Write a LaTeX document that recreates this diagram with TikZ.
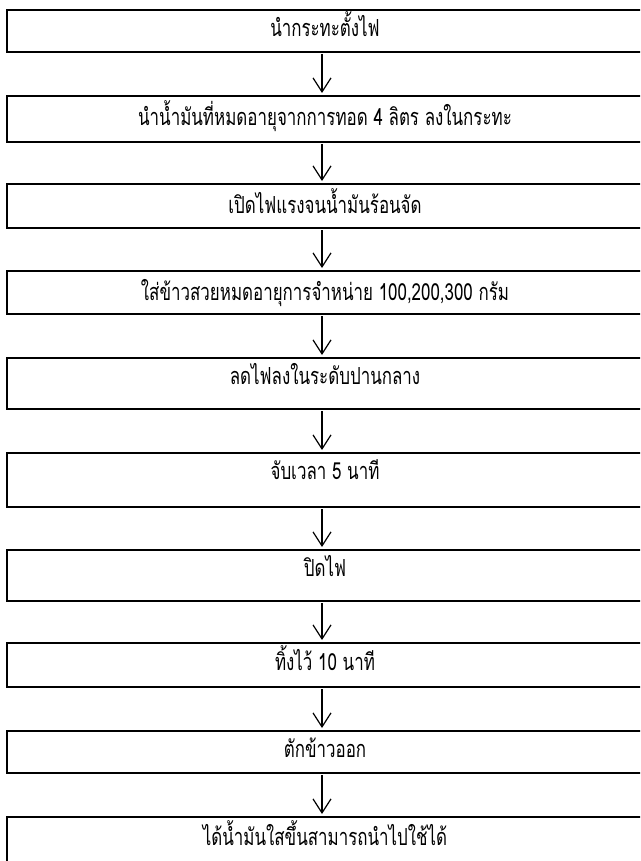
\documentclass[tikz,border=0pt]{standalone}
\usepackage{fontspec}
\newfontfamily\thaifont[Script=Thai,FakeStretch=0.72]{Loma}
\usetikzlibrary{arrows.meta}
\begin{document}
\begin{tikzpicture}[x=1pt,y=-1pt,
  stepbox/.style={draw, line width=2pt, inner sep=0pt, outer sep=0pt, minimum width=637pt, anchor=north west},
  txt/.style={font=\thaifont\fontsize{23.5}{26}\selectfont, inner sep=0pt, anchor=base},
  flow/.style={line width=1.2pt, -{Straight Barb[length=14pt,width=18pt,line width=1.2pt]}, shorten <=2pt, shorten >=3pt}]
\useasboundingbox (0,0) rectangle (640,861);
\clip (0,0) rectangle (640,861);
\node[stepbox, minimum height=42pt] (b1) at (6.5,10) {};
\node[stepbox, minimum height=46pt] (b2) at (6.5,96) {};
\node[stepbox, minimum height=44pt] (b3) at (6.5,184) {};
\node[stepbox, minimum height=43pt] (b4) at (6.5,271) {};
\node[stepbox, minimum height=51pt] (b5) at (6.5,358) {};
\node[stepbox, minimum height=54pt] (b6) at (6.5,453) {};
\node[stepbox, minimum height=51pt] (b7) at (6.5,550) {};
\node[stepbox, minimum height=44pt] (b8) at (6.5,643) {};
\node[stepbox, minimum height=42pt] (b9) at (6.5,731) {};
\node[stepbox, minimum height=70pt] (b10) at (6.5,817) {};
\node[txt] (t1) at ([yshift=-27pt]b1.north) {นำกระทะตั้งไฟ};
\node[txt] (t2) at ([yshift=-30pt]b2.north) {นำน้ำมันที่หมดอายุจากการทอด 4 ลิตร ลงในกระทะ};
\node[txt] (t3) at ([yshift=-29pt]b3.north) {เปิดไฟแรงจนน้ำมันร้อนจัด};
\node[txt] (t4) at ([yshift=-29pt]b4.north) {ใส่ข้าวสวยหมดอายุการจำหน่าย 100,200,300 กรัม};
\node[txt] (t5) at ([yshift=-26pt]b5.north) {ลดไฟลงในระดับปานกลาง};
\node[txt] (t6) at ([yshift=-26pt]b6.north) {จับเวลา 5 นาที};
\node[txt] (t7) at ([yshift=-26pt]b7.north) {ปิดไฟ};
\node[txt] (t8) at ([yshift=-27pt]b8.north) {ทิ้งไว้ 10 นาที};
\node[txt] (t9) at ([yshift=-26pt]b9.north) {ตักข้าวออก};
\node[txt] (t10) at ([yshift=-28pt]b10.north) {ได้น้ำมันใสขึ้นสามารถนำไปใช้ได้};
\foreach \a/\b in {b1/b2,b2/b3,b3/b4,b4/b5,b5/b6,b6/b7,b7/b8,b8/b9,b9/b10}
  \draw[flow] ([xshift=-3pt]\a.south) -- ([xshift=-3pt]\b.north);
\end{tikzpicture}
\end{document}
